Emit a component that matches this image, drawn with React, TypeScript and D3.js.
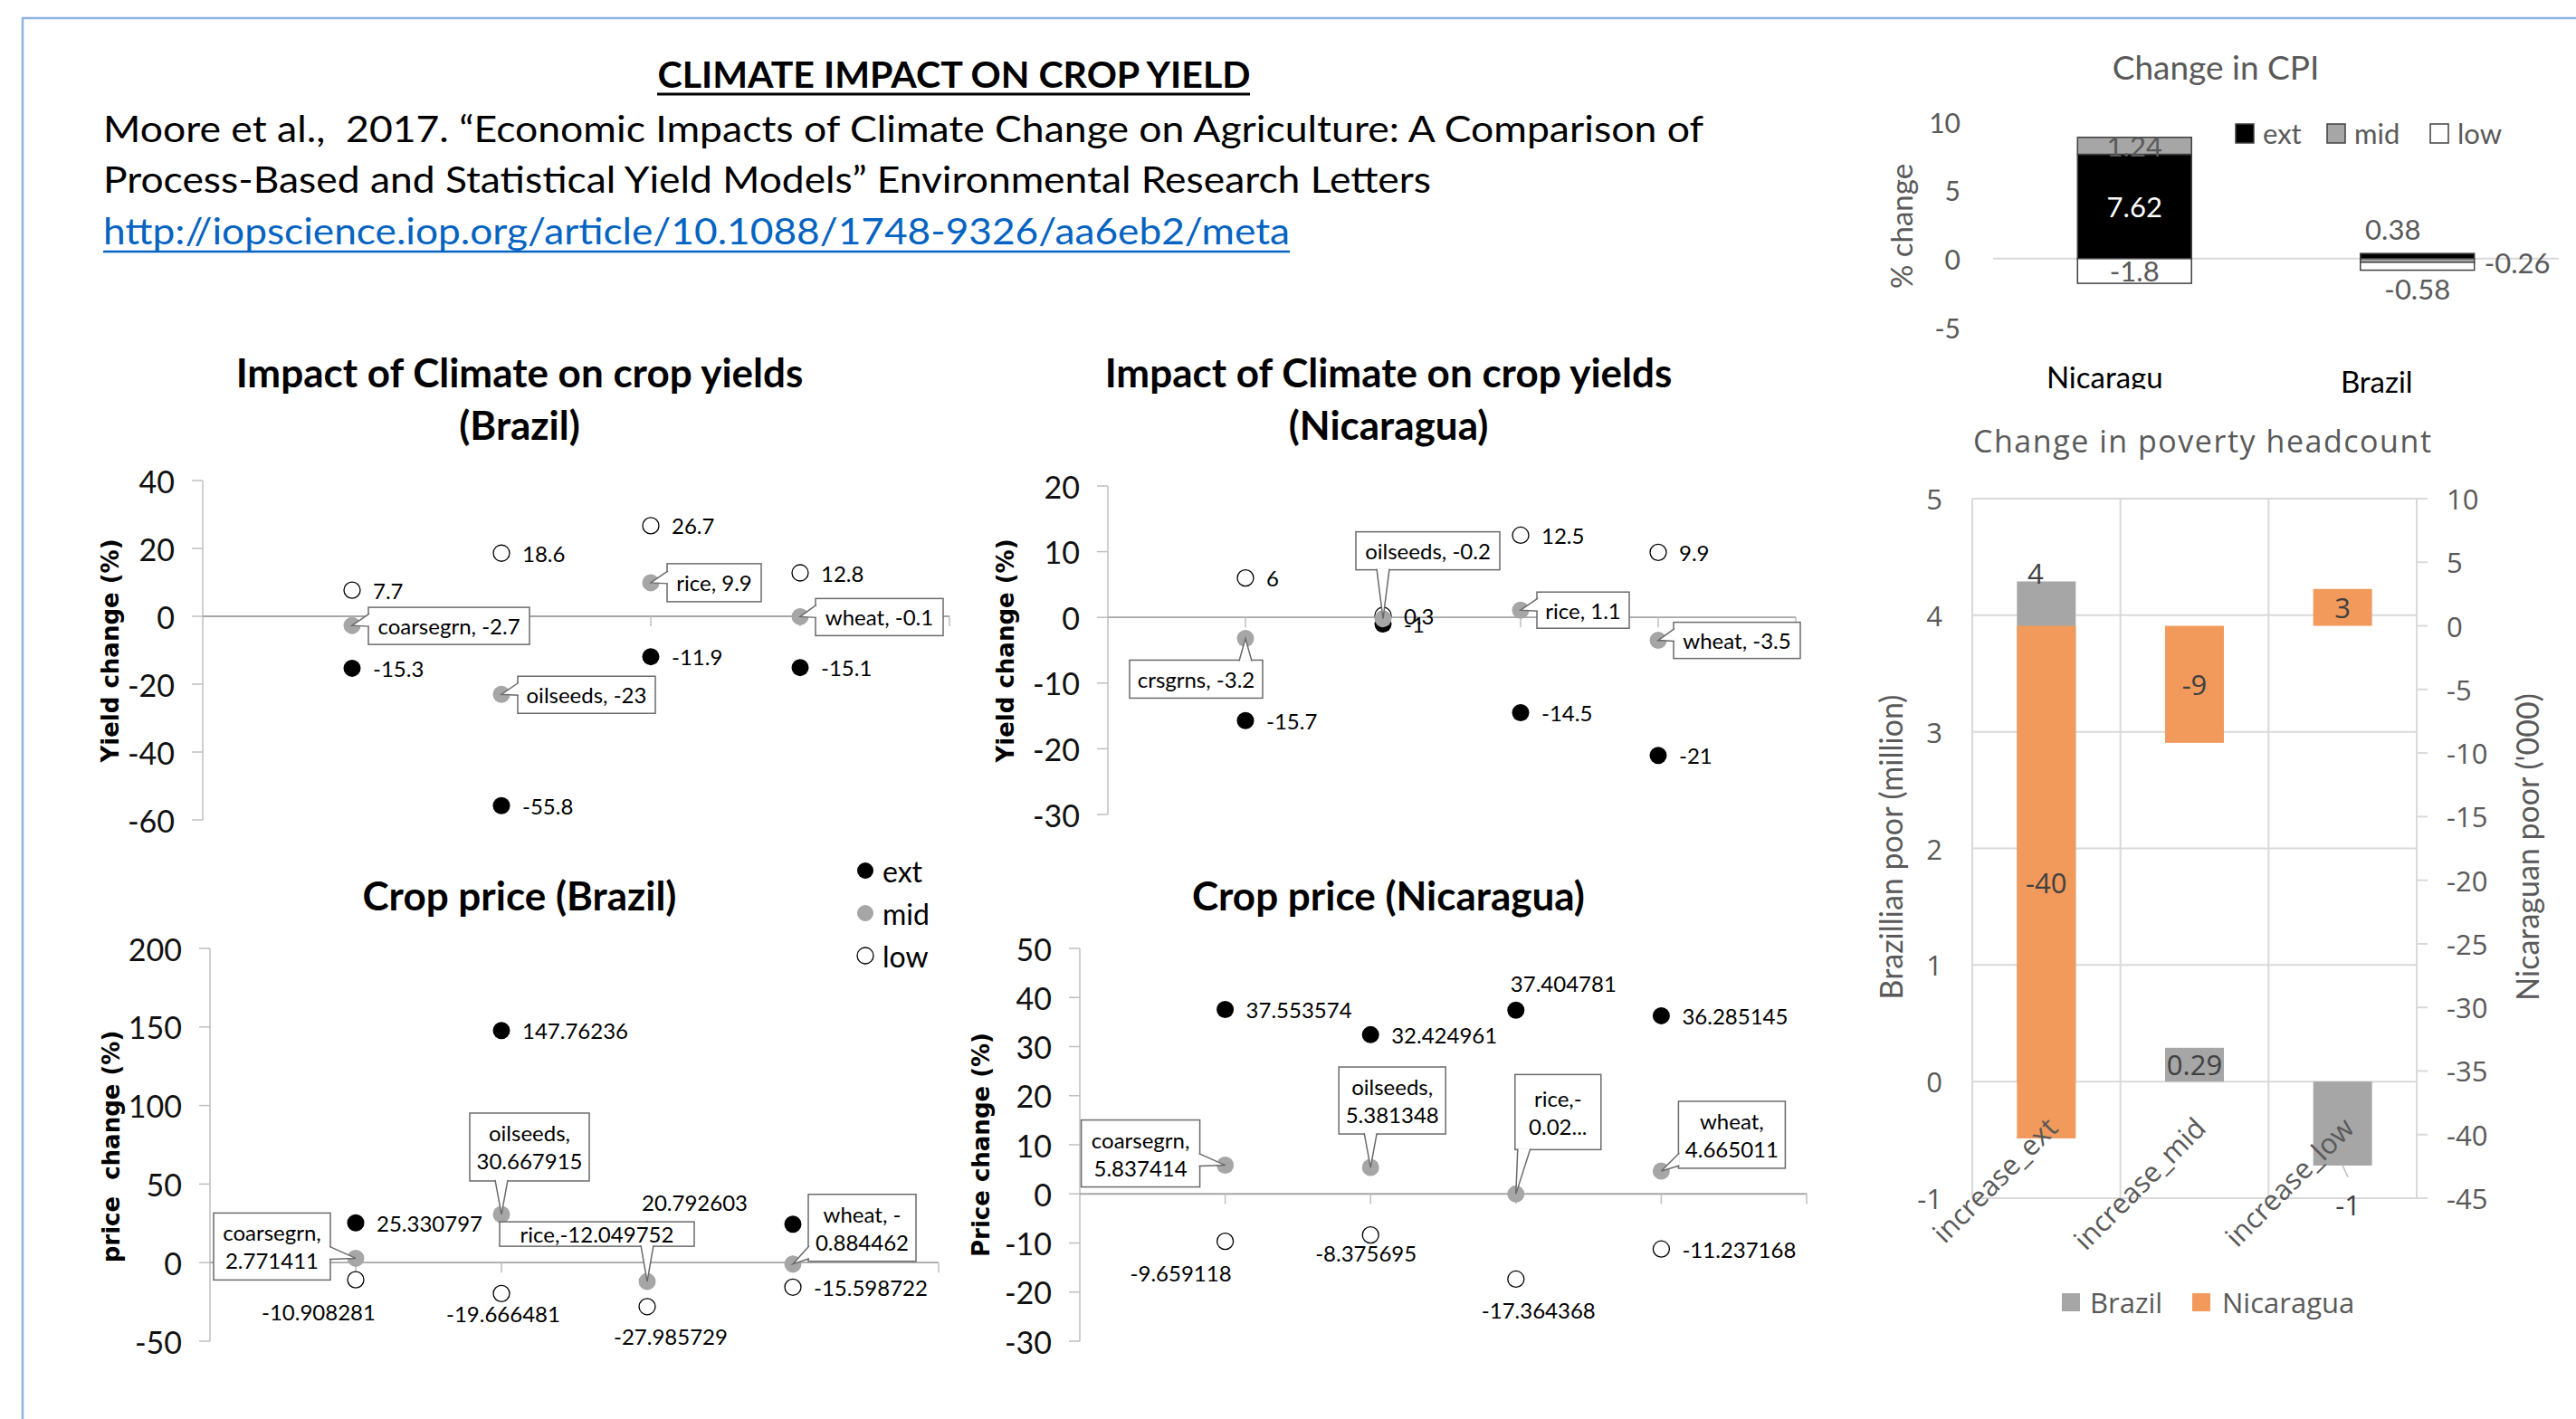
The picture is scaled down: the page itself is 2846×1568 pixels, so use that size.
import * as d3 from 'd3'

// ---- data ----
const crops = ['coarsegrn', 'oilseeds', 'rice', 'wheat']
const nicYieldCrops = ['crsgrns', 'oilseeds', 'rice', 'wheat']

const brYieldExt = [-15.3, -55.8, -11.9, -15.1]
const brYieldMid = [-2.7, -23, 9.9, -0.1]
const brYieldLow = [7.7, 18.6, 26.7, 12.8]

const niYieldExt = [-15.7, -1, -14.5, -21]
const niYieldMid = [-3.2, -0.2, 1.1, -3.5]
const niYieldLow = [6, 0.3, 12.5, 9.9]

const brPriceExt = [25.330797, 147.76236, 20.792603, 24.5]
const brPriceMid = [2.771411, 30.667915, -12.049752, -0.884462]
const brPriceLow = [-10.908281, -19.666481, -27.985729, -15.598722]

const niPriceExt = [37.553574, 32.424961, 37.404781, 36.285145]
const niPriceMid = [5.837414, 5.381348, -0.02, 4.665011]
const niPriceLow = [-9.659118, -8.375695, -17.364368, -11.237168]

const brPriceCallouts = [['coarsegrn,', '2.771411'], ['oilseeds,', '30.667915'], ['rice,-12.049752'], ['wheat, -', '0.884462']]
const niPriceCallouts = [['coarsegrn,', '5.837414'], ['oilseeds,', '5.381348'], ['rice,-', '0.02...'], ['wheat,', '4.665011']]

const brYieldTicks = [-60, -40, -20, 0, 20, 40]
const niYieldTicks = [-30, -20, -10, 0, 10, 20]
const brPriceTicks = [-50, 0, 50, 100, 150, 200]
const niPriceTicks = [-30, -20, -10, 0, 10, 20, 30, 40, 50]

const cpiCountries = ['Nicaragua', 'Brazil']
const cpiTickLabels = ['Nicaragu', 'Brazil']
const cpiKeys = ['ext', 'mid', 'low']
const cpiExt = [7.62, 0.38]
const cpiMid = [1.24, -0.26]
const cpiLow = [-1.8, -0.58]
const cpiTicks = [-5, 0, 5, 10]

const povCats = ['increase_ext', 'increase_mid', 'increase_low']
const povBrazil = [4.29, 0.29, -0.72]
const povNicaragua = [-40.3, -9.2, 2.9]
const povBrazilLabels = ['4', '0.29', '-1']
const povNicLabels = ['-40', '-9', '3']
const povLeftTicks = [-1, 0, 1, 2, 3, 4, 5]
const povRightTicks = [-45, -40, -35, -30, -25, -20, -15, -10, -5, 0, 5, 10]

// ---- styles ----
const CAL = "Lato, 'Open Sans', sans-serif"
const SEG = "'Open Sans', 'DejaVu Sans', sans-serif"
const AXB = "'DejaVu Sans', Verdana, sans-serif"
const GREY_TXT = '#595959'
const MID = '#a6a6a6'
const ORANGE = '#f29a5c'
const LBL = 24

type Pos = { dx: number; dy: number; anchor: 'start' | 'middle' | 'end'; hide?: boolean }
const R: Pos = { dx: 23, dy: 0, anchor: 'start' }
type Box = [number, number, number, number]

interface ScatterProps {
  ext: number[]
  mid: number[]
  low: number[]
  xRange: [number, number]
  yDomain: [number, number]
  yRange: [number, number]
  yTicks: number[]
  title: string[]
  titleX: number
  titleY: number[]
  yTitle: string
  yTitlePos: [number, number]
  extPos: Pos[]
  lowPos: Pos[]
  callouts: string[][]
  boxes: Box[]
}

function Callout({ px, py, box, lines }: { px: number; py: number; box: Box; lines: string[] }) {
  const [rx, ry, w, h] = box
  const bx = px + rx
  const by = py + ry
  const hw = 7
  const clamp = (v: number, a: number, b: number) => Math.min(Math.max(v, a), b)
  let b1: number[]
  let b2: number[]
  if (px < bx) {
    const c = clamp(py - 6, by + hw + 3, by + h - hw - 3)
    b1 = [bx + 1, c - hw]
    b2 = [bx + 1, c + hw]
  } else if (px > bx + w) {
    const c = clamp(py - 6, by + hw + 3, by + h - hw - 3)
    b1 = [bx + w - 1, c - hw]
    b2 = [bx + w - 1, c + hw]
  } else if (py > by + h) {
    const c = clamp(px, bx + hw + 3, bx + w - hw - 3)
    b1 = [c - hw, by + h - 1]
    b2 = [c + hw, by + h - 1]
  } else {
    const c = clamp(px, bx + hw + 3, bx + w - hw - 3)
    b1 = [c - hw, by + 1]
    b2 = [c + hw, by + 1]
  }
  const pts = `${b1.join(',')} ${px},${py} ${b2.join(',')}`
  const lh = 31
  return (
    <g>
      <rect x={bx} y={by} width={w} height={h} fill="#fff" stroke="#6b6b6b" strokeWidth={1.5} />
      <polygon points={pts} fill="#fff" />
      <polyline points={pts} fill="none" stroke="#6b6b6b" strokeWidth={1.5} />
      {lines.map((t, i) => (
        <text
          key={i}
          x={bx + w / 2}
          y={by + h / 2 + (i - (lines.length - 1) / 2) * lh}
          textAnchor="middle"
          dominantBaseline="central"
          fontFamily={CAL}
          fontSize={LBL}
          fill="#000"
        >
          {t}
        </text>
      ))}
    </g>
  )
}

function Scatter(p: ScatterProps) {
  const x = d3.scaleLinear().domain([0, 5]).range(p.xRange)
  const y = d3.scaleLinear().domain(p.yDomain).range(p.yRange)
  const cx = (i: number) => x(i + 1)
  const label = (v: number, i: number, pos: Pos, py: number) =>
    pos.hide ? null : (
      <text
        key={`l${i}-${py}`}
        x={cx(i) + pos.dx}
        y={py + pos.dy}
        textAnchor={pos.anchor}
        dominantBaseline="central"
        fontFamily={CAL}
        fontSize={LBL}
        fill="#000"
      >
        {String(v)}
      </text>
    )
  return (
    <g>
      {p.title.map((t, i) => (
        <text key={t} x={p.titleX} y={p.titleY[i]} textAnchor="middle" dominantBaseline="central" fontFamily={CAL} fontWeight={700} fontSize={44}>
          {t}
        </text>
      ))}
      <text
        transform={`translate(${p.yTitlePos[0]},${p.yTitlePos[1]}) rotate(-90)`}
        textAnchor="middle"
        dominantBaseline="central"
        fontFamily={AXB}
        fontWeight={700}
        fontSize={26}
        style={{ whiteSpace: 'pre' }}
      >
        {p.yTitle}
      </text>
      {/* y axis */}
      <line x1={p.xRange[0]} x2={p.xRange[0]} y1={y(p.yDomain[0])} y2={y(p.yDomain[1])} stroke="#bfbfbf" strokeWidth={1.5} />
      {p.yTicks.map((t) => (
        <g key={t}>
          <line x1={p.xRange[0] - 12} x2={p.xRange[0]} y1={y(t)} y2={y(t)} stroke="#bfbfbf" strokeWidth={1.5} />
          <text x={p.xRange[0] - 31} y={y(t)} textAnchor="end" dominantBaseline="central" fontFamily={CAL} fontSize={34} fill="#111">
            {t}
          </text>
        </g>
      ))}
      {/* x axis at zero */}
      <line x1={p.xRange[0]} x2={p.xRange[1]} y1={y(0)} y2={y(0)} stroke="#a6a6a6" strokeWidth={1.8} />
      {[1, 2, 3, 4, 5].map((t) => (
        <line key={t} x1={x(t)} x2={x(t)} y1={y(0)} y2={y(0) + 11} stroke="#bfbfbf" strokeWidth={1.5} />
      ))}
      {/* points */}
      {p.ext.map((v, i) => (
        <circle key={`e${i}`} cx={cx(i)} cy={y(v)} r={9.5} fill="#000" />
      ))}
      {p.low.map((v, i) => (
        <circle key={`o${i}`} cx={cx(i)} cy={y(v)} r={9} fill="#fff" stroke="#000" strokeWidth={1.3} />
      ))}
      {p.mid.map((v, i) => (
        <circle key={`m${i}`} cx={cx(i)} cy={y(v)} r={9.5} fill={MID} />
      ))}
      {p.ext.map((v, i) => label(v, i, p.extPos[i], y(v)))}
      {p.low.map((v, i) => label(v, i, p.lowPos[i], y(v)))}
      {p.mid.map((v, i) => (
        <Callout key={`c${i}`} px={cx(i)} py={y(v)} box={p.boxes[i]} lines={p.callouts[i]} />
      ))}
    </g>
  )
}

function CpiChart() {
  const x = d3.scaleBand().domain(cpiCountries).range([2202, 2827]).paddingInner(0.597).paddingOuter(0.2985)
  const y = d3.scaleLinear().domain([-5, 10]).range([361.5, 134.5])
  const rows = cpiCountries.map((c, i) => ({ country: c, ext: cpiExt[i], mid: cpiMid[i], low: cpiLow[i] }))
  const series = d3.stack<any>().keys(cpiKeys).offset(d3.stackOffsetDiverging)(rows)
  const fills: Record<string, string> = { ext: '#000', mid: MID, low: '#fff' }
  const bw = x.bandwidth()
  // label placement for Brazil (Nicaragua labels sit centred in their segment)
  const brazilPos: Record<string, { dx: number; dy: number; anchor: 'start' | 'middle' }> = {
    ext: { dx: -27, dy: -27, anchor: 'middle' },
    mid: { dx: 74, dy: 2, anchor: 'start' },
    low: { dx: 0, dy: 29, anchor: 'middle' },
  }
  const legendX = [2470, 2571, 2685]
  return (
    <g>
      <text x={2448} y={73} textAnchor="middle" dominantBaseline="central" fontFamily={CAL} fontSize={37} fill={GREY_TXT}>
        Change in CPI
      </text>
      <text transform="translate(2100,250) rotate(-90)" textAnchor="middle" dominantBaseline="central" fontFamily={CAL} fontSize={33} fill={GREY_TXT}>
        % change
      </text>
      {cpiTicks.map((t) => (
        <text key={t} x={2166} y={y(t)} textAnchor="end" dominantBaseline="central" fontFamily={CAL} fontSize={30} fill={GREY_TXT}>
          {t}
        </text>
      ))}
      <line x1={2202} x2={2827} y1={y(0)} y2={y(0)} stroke="#d9d9d9" strokeWidth={2} />
      {series.map((s) =>
        s.map((d, i) => (
          <rect
            key={`${s.key}${i}`}
            x={x(cpiCountries[i])}
            y={y(Math.max(d[0], d[1]))}
            width={bw}
            height={Math.abs(y(d[0]) - y(d[1]))}
            fill={fills[s.key]}
            stroke="#404040"
            strokeWidth={1.5}
          />
        ))
      )}
      {series.map((s) =>
        s.map((d, i) => {
          const v = d.data[s.key] as number
          const bx = (x(cpiCountries[i]) as number) + bw / 2
          if (i === 0) {
            return (
              <text key={`t${s.key}${i}`} x={bx} y={y((d[0] + d[1]) / 2)} textAnchor="middle" dominantBaseline="central" fontFamily={CAL} fontSize={31} fill={s.key === 'ext' ? '#fff' : GREY_TXT}>
                {String(v)}
              </text>
            )
          }
          const pos = brazilPos[s.key]
          const base = s.key === 'mid' ? y((d[0] + d[1]) / 2) : y(d[1])
          return (
            <text key={`t${s.key}${i}`} x={bx + pos.dx} y={base + pos.dy} textAnchor={pos.anchor} dominantBaseline="central" fontFamily={CAL} fontSize={31} fill={GREY_TXT}>
              {String(v)}
            </text>
          )
        })
      )}
      {cpiKeys.map((k, i) => (
        <g key={k}>
          <rect x={legendX[i]} y={137} width={20} height={21} fill={fills[k]} stroke="#404040" strokeWidth={1.5} />
          <text x={legendX[i] + 30} y={147} dominantBaseline="central" fontFamily={CAL} fontSize={31} fill={GREY_TXT}>
            {k}
          </text>
        </g>
      ))}
      <defs>
        <clipPath id="cpiClip">
          <rect x={2060} y={380} width={780} height={50} />
        </clipPath>
      </defs>
      <g clipPath="url(#cpiClip)">
        <text x={(x(cpiCountries[0]) as number) + bw / 2 - 33} y={429} textAnchor="middle" fontFamily={CAL} fontSize={33} fill="#000">
          {cpiTickLabels[0]}
        </text>
      </g>
      <text x={(x(cpiCountries[1]) as number) + bw / 2 - 45} y={434} textAnchor="middle" fontFamily={CAL} fontSize={33} fill="#000">
        {cpiTickLabels[1]}
      </text>
    </g>
  )
}

function PovertyChart() {
  const x = d3.scaleBand().domain(povCats).range([2179, 2670]).paddingInner(0.603).paddingOuter(0.3015)
  const yL = d3.scaleLinear().domain([-1, 5]).range([1324, 551])
  const yR = d3.scaleLinear().domain([-45, 10]).range([1324, 551])
  const bw = x.bandwidth()
  const step = x.step()
  const bounds = [0, 1, 2, 3].map((i) => 2179 + i * step)
  const ctr = (c: string) => (x(c) as number) + bw / 2
  const FS = 31
  return (
    <g>
      <text x={2433} y={487} textAnchor="middle" dominantBaseline="central" fontFamily={SEG} fontSize={34} fill={GREY_TXT} textLength={506}>
        Change in poverty headcount
      </text>
      {povLeftTicks.map((t) => (
        <g key={t}>
          <line x1={2179} x2={2670} y1={yL(t)} y2={yL(t)} stroke="#d9d9d9" strokeWidth={2} />
          <text x={2146} y={yL(t)} textAnchor="end" dominantBaseline="central" fontFamily={SEG} fontSize={FS} fill={GREY_TXT}>
            {t}
          </text>
        </g>
      ))}
      {bounds.map((b) => (
        <line key={b} x1={b} x2={b} y1={551} y2={1324} stroke="#d9d9d9" strokeWidth={2} />
      ))}
      {povRightTicks.map((t) => (
        <g key={t}>
          <line x1={2670} x2={2682} y1={yR(t)} y2={yR(t)} stroke="#d9d9d9" strokeWidth={2} />
          <text x={2703} y={yR(t)} dominantBaseline="central" fontFamily={SEG} fontSize={FS} fill={GREY_TXT}>
            {t}
          </text>
        </g>
      ))}
      <text transform="translate(2088,936) rotate(-90)" textAnchor="middle" dominantBaseline="central" fontFamily={CAL} fontSize={34} fill={GREY_TXT}>
        Brazillian poor (million)
      </text>
      <text transform="translate(2791,936) rotate(-90)" textAnchor="middle" dominantBaseline="central" fontFamily={CAL} fontSize={34} fill={GREY_TXT}>
        Nicaraguan poor ('000)
      </text>
      {povCats.map((c, i) => (
        <rect key={`b${c}`} x={x(c)} y={yL(Math.max(0, povBrazil[i]))} width={bw} height={Math.abs(yL(povBrazil[i]) - yL(0))} fill={MID} />
      ))}
      {povCats.map((c, i) => (
        <rect key={`n${c}`} x={x(c)} y={yR(Math.max(0, povNicaragua[i]))} width={bw} height={Math.abs(yR(povNicaragua[i]) - yR(0))} fill={ORANGE} />
      ))}
      {/* Brazil labels */}
      <text x={ctr(povCats[0]) - 12} y={yL(povBrazil[0]) - 9} textAnchor="middle" dominantBaseline="central" fontFamily={SEG} fontSize={FS} fill="#404040">
        {povBrazilLabels[0]}
      </text>
      <text x={ctr(povCats[1])} y={yL(povBrazil[1] / 2)} textAnchor="middle" dominantBaseline="central" fontFamily={SEG} fontSize={FS} fill="#404040">
        {povBrazilLabels[1]}
      </text>
      <line x1={ctr(povCats[2])} y1={yL(povBrazil[2])} x2={ctr(povCats[2]) + 6} y2={yL(povBrazil[2]) + 13} stroke="#bfbfbf" strokeWidth={1.5} />
      <text x={ctr(povCats[2]) + 6} y={yL(povBrazil[2]) + 43} textAnchor="middle" dominantBaseline="central" fontFamily={SEG} fontSize={FS} fill="#404040">
        {povBrazilLabels[2]}
      </text>
      {povCats.map((c, i) => (
        <text key={`nl${c}`} x={ctr(c)} y={yR(povNicaragua[i] / 2)} textAnchor="middle" dominantBaseline="central" fontFamily={SEG} fontSize={FS} fill="#404040">
          {povNicLabels[i]}
        </text>
      ))}
      {povCats.map((c) => (
        <text
          key={`cl${c}`}
          transform={`translate(${ctr(c) + 6},${1240}) rotate(-45)`}
          textAnchor="end"
          dominantBaseline="central"
          fontFamily={SEG}
          fontSize={31}
          fill={GREY_TXT}
        >
          {c}
        </text>
      ))}
      <rect x={2278} y={1429} width={20} height={20} fill={MID} />
      <text x={2309} y={1439} dominantBaseline="central" fontFamily={SEG} fontSize={FS} fill={GREY_TXT}>
        Brazil
      </text>
      <rect x={2422} y={1429} width={20} height={20} fill={ORANGE} />
      <text x={2455} y={1439} dominantBaseline="central" fontFamily={SEG} fontSize={FS} fill={GREY_TXT}>
        Nicaragua
      </text>
    </g>
  )
}

export default function App() {
  return (
    <svg width={2846} height={1568} style={{ position: 'absolute', left: 0, top: 0, background: '#fff' }}>
      <rect x={0} y={0} width={2846} height={1568} fill="#fff" />
      <path d="M25,1568 L25,20 L2846,20" fill="none" stroke="#8eb4e3" strokeWidth={2.5} />

      {/* header */}
      <text x={1054} y={97} textAnchor="middle" fontFamily={CAL} fontWeight={700} fontSize={40} textLength={655} lengthAdjust="spacingAndGlyphs">
        CLIMATE IMPACT ON CROP YIELD
      </text>
      <line x1={726} x2={1381} y1={104} y2={104} stroke="#000" strokeWidth={3} />
      <text x={114} y={157} fontFamily={CAL} fontSize={41} textLength={1768} lengthAdjust="spacingAndGlyphs" style={{ whiteSpace: 'pre' }}>
        {'Moore et al.,  2017. \u201cEconomic Impacts of Climate Change on Agriculture: A Comparison of'}
      </text>
      <text x={114} y={213} fontFamily={CAL} fontSize={41} textLength={1467} lengthAdjust="spacingAndGlyphs">
        {'Process-Based and Statistical Yield Models\u201d Environmental Research Letters'}
      </text>
      <text x={114} y={270} fontFamily={CAL} fontSize={41} fill="#0563c1" textLength={1311} lengthAdjust="spacingAndGlyphs">
        http://iopscience.iop.org/article/10.1088/1748-9326/aa6eb2/meta
      </text>
      <line x1={114} x2={1425} y1={278} y2={278} stroke="#0563c1" strokeWidth={2.5} />

      <Scatter
        ext={brYieldExt}
        mid={brYieldMid}
        low={brYieldLow}
        xRange={[224, 1049]}
        yDomain={[-60, 40]}
        yRange={[906, 531]}
        yTicks={brYieldTicks}
        title={['Impact of Climate on crop yields', '(Brazil)']}
        titleX={574}
        titleY={[411, 469]}
        yTitle="Yield change (%)"
        yTitlePos={[122, 719]}
        extPos={[R, R, R, R]}
        lowPos={[R, R, R, R]}
        callouts={crops.map((c, i) => [`${c}, ${brYieldMid[i]}`])}
        boxes={[
          [18, -20, 178, 41],
          [18, -20, 152, 41],
          [18, -21, 104, 42],
          [17, -20, 141, 41],
        ]}
      />
      <Scatter
        ext={niYieldExt}
        mid={niYieldMid}
        low={niYieldLow}
        xRange={[1224, 1984]}
        yDomain={[-30, 20]}
        yRange={[900, 537]}
        yTicks={niYieldTicks}
        title={['Impact of Climate on crop yields', '(Nicaragua)']}
        titleX={1534}
        titleY={[411, 469]}
        yTitle="Yield change (%)"
        yTitlePos={[1111, 719]}
        extPos={[R, R, R, R]}
        lowPos={[R, R, R, R]}
        callouts={nicYieldCrops.map((c, i) => [`${c}, ${niYieldMid[i]}`])}
        boxes={[
          [-128, 24, 147, 42],
          [-30, -96, 159, 42],
          [18, -20, 102, 40],
          [17, -20, 140, 40],
        ]}
      />
      <Scatter
        ext={brPriceExt}
        mid={brPriceMid}
        low={brPriceLow}
        xRange={[232, 1037]}
        yDomain={[-50, 200]}
        yRange={[1482, 1048]}
        yTicks={brPriceTicks}
        title={['Crop price (Brazil)']}
        titleX={574}
        titleY={[989]}
        yTitle="price  change (%)"
        yTitlePos={[123, 1267]}
        extPos={[R, R, { dx: -6, dy: -31, anchor: 'start' }, { ...R, hide: true }]}
        lowPos={[
          { dx: -41, dy: 35, anchor: 'middle' },
          { dx: 2, dy: 22, anchor: 'middle' },
          { dx: 26, dy: 33, anchor: 'middle' },
          R,
        ]}
        callouts={brPriceCallouts}
        boxes={[
          [-157, -50, 129, 74],
          [-35, -112, 132, 75],
          [-163, -66, 215, 27],
          [17, -77, 119, 74],
        ]}
      />
      <Scatter
        ext={niPriceExt}
        mid={niPriceMid}
        low={niPriceLow}
        xRange={[1193, 1996]}
        yDomain={[-30, 50]}
        yRange={[1482, 1048]}
        yTicks={niPriceTicks}
        title={['Crop price (Nicaragua)']}
        titleX={1534}
        titleY={[989]}
        yTitle="Price change (%)"
        yTitlePos={[1084, 1265]}
        extPos={[R, R, { dx: -6, dy: -30, anchor: 'start' }, R]}
        lowPos={[
          { dx: -49, dy: 35, anchor: 'middle' },
          { dx: -5, dy: 20, anchor: 'middle' },
          { dx: 25, dy: 34, anchor: 'middle' },
          R,
        ]}
        callouts={niPriceCallouts}
        boxes={[
          [-159, -50, 131, 74],
          [-35, -111, 118, 74],
          [-1, -132, 95, 83],
          [19, -77, 118, 74],
        ]}
      />

      {/* scatter legend */}
      {['ext', 'mid', 'low'].map((k, i) => (
        <g key={k}>
          <circle cx={956} cy={962 + i * 47} r={9} fill={k === 'ext' ? '#000' : k === 'mid' ? MID : '#fff'} stroke={k === 'low' ? '#000' : 'none'} strokeWidth={1.3} />
          <text x={975} y={962 + i * 47} dominantBaseline="central" fontFamily={CAL} fontSize={32}>
            {k}
          </text>
        </g>
      ))}

      <CpiChart />
      <PovertyChart />
    </svg>
  )
}
